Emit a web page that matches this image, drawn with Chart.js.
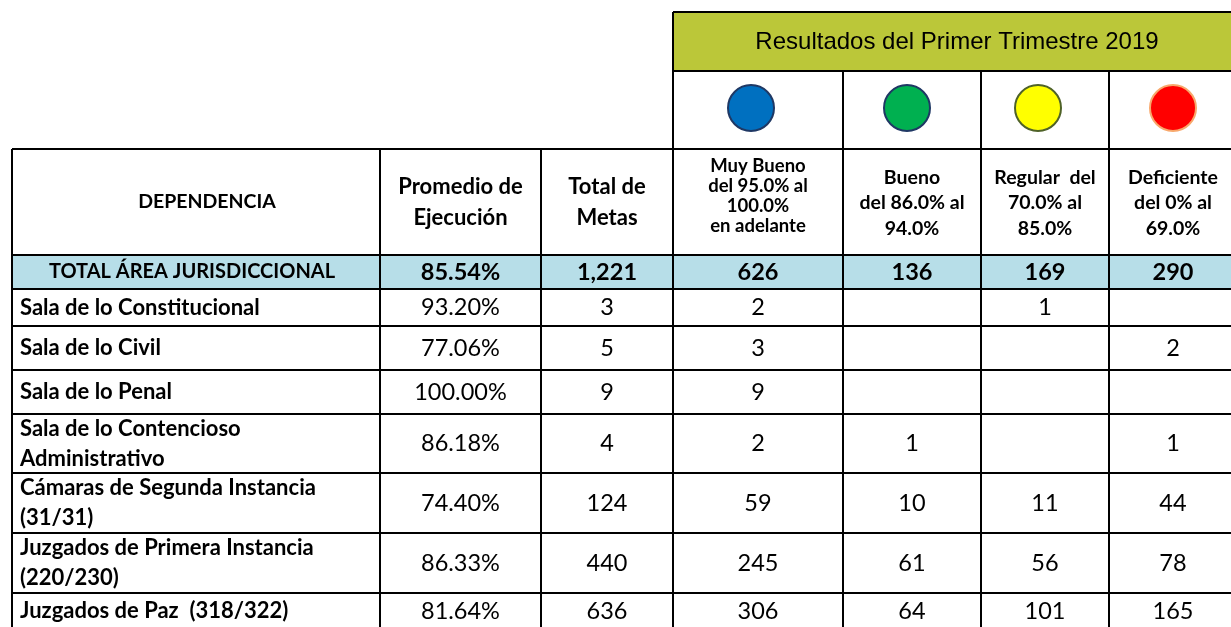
<!DOCTYPE html>
<html lang="es">
<head>
<meta charset="utf-8">
<title>Resultados del Primer Trimestre 2019</title>
<script src="https://cdn.jsdelivr.net/npm/chart.js@4.4.1/dist/chart.umd.min.js"></script>
<style>
  html, body { margin: 0; padding: 0; background: #fff; }
  #wrap { width: 1231px; height: 627px; }
</style>
</head>
<body>
<div id="wrap"><canvas id="tabla" width="1231" height="627"></canvas></div>
<script>
const titulo = "Resultados del Primer Trimestre 2019";
const encabezados = [
    "DEPENDENCIA",
    "Promedio de\nEjecución",
    "Total de\nMetas",
    "Muy Bueno\ndel 95.0% al\n100.0%\nen adelante",
    "Bueno\ndel 86.0% al\n94.0%",
    "Regular  del\n70.0% al\n85.0%",
    "Deficiente\ndel 0% al\n69.0%"
];
const nivelColores = ["#0070C0", "#00B050", "#FFFF00", "#FF0000"];
const nivelBordes = ["#1F3864", "#1F3864", "#4F6228", "#F8A86C"];

const totalEtiqueta = "TOTAL ÁREA JURISDICCIONAL";
const totalValores = [85.54, 1221, 626, 136, 169, 290];

const dependencias = [
    "Sala de lo Constitucional",
    "Sala de lo Civil",
    "Sala de lo Penal",
    "Sala de lo Contencioso\nAdministrativo",
    "Cámaras de Segunda Instancia\n(31/31)",
    "Juzgados de Primera Instancia\n(220/230)",
    "Juzgados de Paz  (318/322)"
];
const promedio = [93.20, 77.06, 100.00, 86.18, 74.40, 86.33, 81.64];
const totalMetas = [3, 5, 9, 4, 124, 440, 636];
const muyBueno = [2, 3, 9, 2, 59, 245, 306];
const bueno = [null, null, null, 1, 10, 61, 64];
const regular = [1, null, null, null, 11, 56, 101];
const deficiente = [null, 2, null, 1, 44, 78, 165];

// layout of the grid, in scale units
const colEdges = [12, 380, 541, 673, 843, 981, 1109, 1237];
const rowEdges = [12, 71, 149, 255, 289, 326, 370, 414, 473, 533, 593, 629];
const circleRow = 108;
const circleShift = [-7, -5, -7, 0];

const FONT = "Lato, 'Open Sans', sans-serif";

function fmtPct(v) { return v.toFixed(2) + "%"; }
function fmtNum(v) { return v == null ? "" : v.toLocaleString("en-US"); }

function colCenter(i) { return (colEdges[i] + colEdges[i + 1]) / 2; }
function rowCenter(i) { return (rowEdges[i] + rowEdges[i + 1]) / 2; }

function drawLines(ctx, str, x, y, lh) {
    const lines = str.split("\n");
    const start = y - (lines.length - 1) * lh / 2;
    lines.forEach((l, i) => ctx.fillText(l, x, start + i * lh));
}

const tablaPlugin = {
    id: "tabla",
    beforeDatasetsDraw(chart) {
        const ctx = chart.ctx;
        const px = v => chart.scales.x.getPixelForValue(v);
        const py = v => chart.scales.y.getPixelForValue(v);
        const right = colEdges[colEdges.length - 1];
        const bottom = rowEdges[rowEdges.length - 1];
        ctx.save();
        ctx.fillStyle = "#BBC739";
        ctx.fillRect(px(colEdges[3]), py(rowEdges[0]), px(right) - px(colEdges[3]), py(rowEdges[1]) - py(rowEdges[0]));
        ctx.fillStyle = "#B7DEE8";
        ctx.fillRect(px(colEdges[0]), py(rowEdges[3]), px(right) - px(colEdges[0]), py(rowEdges[4]) - py(rowEdges[3]));

        ctx.strokeStyle = "#000";
        ctx.lineWidth = 2;
        ctx.beginPath();
        // top band
        [0, 1].forEach(r => {
            ctx.moveTo(px(colEdges[3]), py(rowEdges[r]));
            ctx.lineTo(px(right), py(rowEdges[r]));
        });
        for (let r = 2; r < rowEdges.length - 1; r++) {
            ctx.moveTo(px(colEdges[0]), py(rowEdges[r]));
            ctx.lineTo(px(right), py(rowEdges[r]));
        }
        colEdges.slice(0, -1).forEach((c, i) => {
            let top = rowEdges[2];
            if (i === 3) top = rowEdges[0];
            if (i > 3) top = rowEdges[1];
            ctx.moveTo(px(c), py(top));
            ctx.lineTo(px(c), py(bottom));
        });
        ctx.stroke();
        ctx.restore();
    },
    afterDatasetsDraw(chart) {
        const ctx = chart.ctx;
        const px = v => chart.scales.x.getPixelForValue(v);
        const py = v => chart.scales.y.getPixelForValue(v);
        ctx.save();
        ctx.fillStyle = "#000";
        ctx.textBaseline = "middle";
        ctx.textAlign = "center";

        ctx.font = "24px 'Liberation Sans', Arial, sans-serif";
        ctx.fillText(titulo, px((colEdges[3] + 1231) / 2 + 5), py(rowCenter(0) + 1));

        encabezados.forEach((h, i) => {
            let size = 22, lh = 31, cy = rowCenter(2);
            if (i === 0) { size = 19.5; }
            if (i === 3) { size = 18.5; lh = 20; cy = rowCenter(2) - 6; }
            if (i > 3) { size = 19.5; lh = 25.5; cy = rowCenter(2) + 1; }
            ctx.font = "bold " + size + "px " + FONT;
            let cx = colCenter(i);
            if (i === 0) cx += 11;
            drawLines(ctx, h, px(cx), py(cy), lh);
        });

        ctx.font = "bold 20px " + FONT;
        ctx.fillText(totalEtiqueta, px(colCenter(0) - 4), py(rowCenter(3)));
        ctx.font = "bold 23.5px " + FONT;
        totalValores.forEach((v, i) => {
            const s = i === 0 ? fmtPct(v) : fmtNum(v);
            ctx.fillText(s, px(colCenter(i + 1)), py(rowCenter(3)));
        });

        const columnas = [promedio.map(fmtPct), totalMetas, muyBueno, bueno, regular, deficiente];
        dependencias.forEach((d, r) => {
            const cy = py(rowCenter(r + 4));
            ctx.font = "bold 22px " + FONT;
            ctx.textAlign = "left";
            drawLines(ctx, d, px(colEdges[0] + 8), cy, 30);
            ctx.font = "23.5px " + FONT;
            ctx.textAlign = "center";
            columnas.forEach((col, c) => {
                const v = col[r];
                ctx.fillText(typeof v === "string" ? v : fmtNum(v), px(colCenter(c + 1)), cy);
            });
        });
        ctx.restore();
    }
};

const circulos = nivelColores.map((c, i) => ({ x: colCenter(i + 3) + circleShift[i], y: circleRow, r: 23 }));

new Chart(document.getElementById("tabla"), {
    type: "bubble",
    data: {
        datasets: [{
            data: circulos,
            backgroundColor: nivelColores,
            borderColor: nivelBordes,
            borderWidth: 2,
            hoverRadius: 0,
        }],
    },
    options: {
        responsive: false,
        animation: false,
        events: [],
        layout: { padding: 0, autoPadding: false },
        plugins: {
            legend: { display: false },
            tooltip: { enabled: false },
        },
        scales: {
            x: { type: "linear", min: 0, max: 1231, display: false },
            y: { type: "linear", min: 0, max: 627, reverse: true, display: false },
        },
    },
    plugins: [tablaPlugin],
});
</script>
</body>
</html>
